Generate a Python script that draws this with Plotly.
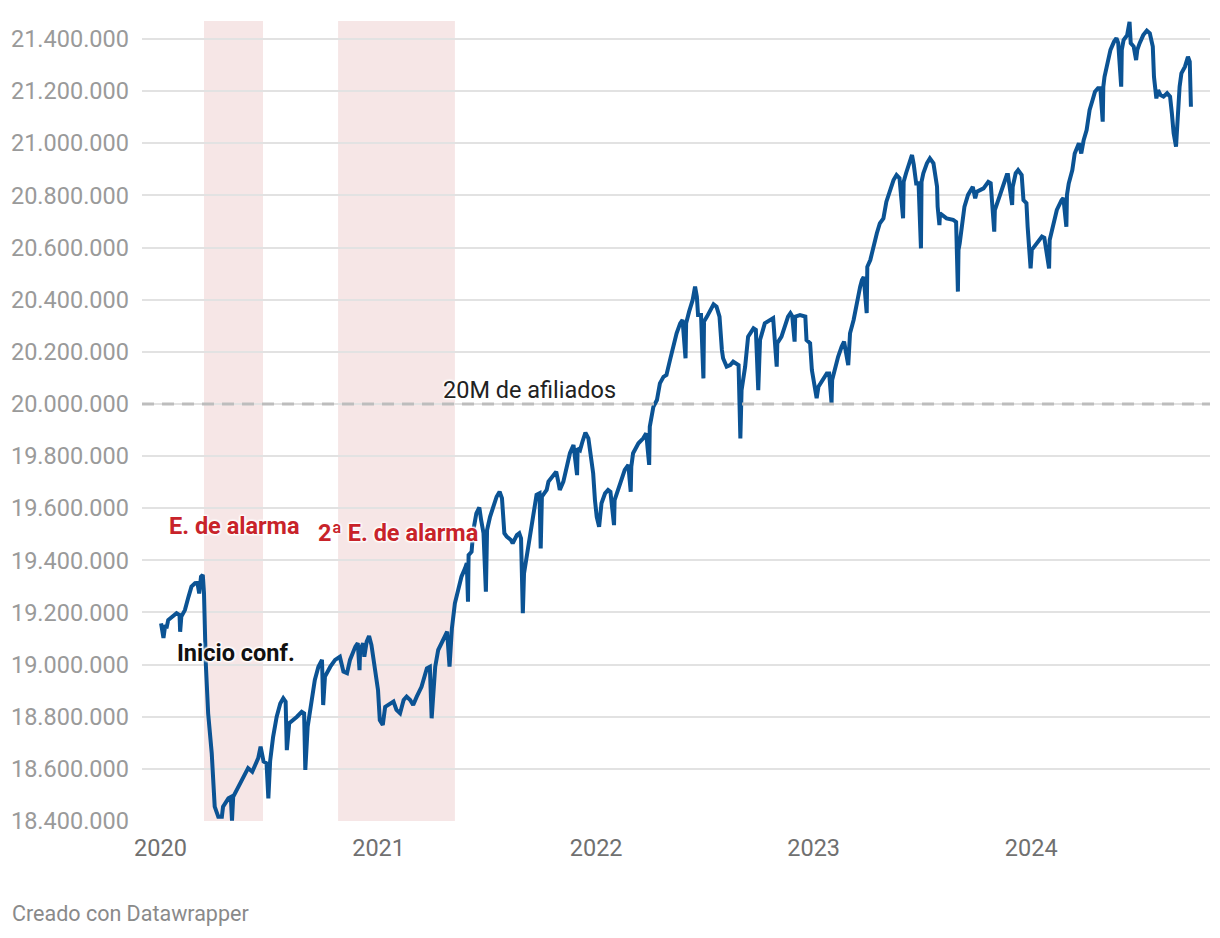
import plotly.graph_objects as go

# ---- data (affiliates, thousands) ----
dates = [
"2020-01-02","2020-01-06","2020-01-09","2020-01-11","2020-01-14","2020-01-20","2020-01-28","2020-02-02","2020-02-03","2020-02-05",
"2020-02-11","2020-02-17","2020-02-22","2020-02-28","2020-03-03","2020-03-06","2020-03-09","2020-03-12","2020-03-14","2020-03-17",
"2020-03-21","2020-03-27","2020-04-01","2020-04-07","2020-04-13","2020-04-15","2020-04-24","2020-04-28","2020-04-30","2020-05-02",
"2020-05-11","2020-05-19","2020-05-27","2020-06-03","2020-06-13","2020-06-17","2020-06-22","2020-06-27","2020-06-30","2020-07-03",
"2020-07-08","2020-07-14","2020-07-20","2020-07-25","2020-07-29","2020-07-31","2020-08-04","2020-08-17","2020-08-25","2020-08-29",
"2020-08-31","2020-09-04","2020-09-10","2020-09-16","2020-09-22","2020-09-28","2020-09-30","2020-10-03","2020-10-12","2020-10-20",
"2020-10-28","2020-11-03","2020-11-09","2020-11-14","2020-11-23","2020-11-27","2020-11-30","2020-12-01","2020-12-06","2020-12-08",
"2020-12-12","2020-12-16","2020-12-20","2020-12-26","2020-12-31","2021-01-03","2021-01-08","2021-01-12","2021-01-20","2021-01-26",
"2021-01-31","2021-02-06","2021-02-12","2021-02-17","2021-02-23","2021-02-28","2021-03-06","2021-03-14","2021-03-23","2021-03-28",
"2021-03-31","2021-04-06","2021-04-11","2021-04-20","2021-04-26","2021-04-30","2021-05-04","2021-05-09","2021-05-15","2021-05-20",
"2021-05-26","2021-05-29","2021-05-31","2021-06-01","2021-06-06","2021-06-09","2021-06-14","2021-06-19","2021-06-22","2021-06-26",
"2021-06-30","2021-07-02","2021-07-07","2021-07-12","2021-07-18","2021-07-23","2021-07-27","2021-07-31","2021-08-04","2021-08-11",
"2021-08-14","2021-08-21","2021-08-25","2021-08-28","2021-08-31","2021-09-02","2021-09-07","2021-09-11","2021-09-17","2021-09-23",
"2021-09-28","2021-09-30","2021-10-02","2021-10-10","2021-10-13","2021-10-21","2021-10-26","2021-10-30","2021-11-01","2021-11-07",
"2021-11-13","2021-11-18","2021-11-24","2021-11-30","2021-12-01","2021-12-05","2021-12-09","2021-12-14","2021-12-19","2021-12-23",
"2021-12-27","2021-12-30","2022-01-02","2022-01-06","2022-01-10","2022-01-16","2022-01-21","2022-01-25","2022-01-31","2022-02-01",
"2022-02-07","2022-02-13","2022-02-18","2022-02-24","2022-02-28","2022-03-01","2022-03-04","2022-03-13","2022-03-21","2022-03-26",
"2022-03-31","2022-04-01","2022-04-07","2022-04-13","2022-04-18","2022-04-24","2022-04-29","2022-05-05","2022-05-10","2022-05-16",
"2022-05-22","2022-05-26","2022-05-31","2022-06-01","2022-06-06","2022-06-12","2022-06-16","2022-06-19","2022-06-21","2022-06-26",
"2022-06-30","2022-07-01","2022-07-06","2022-07-11","2022-07-17","2022-07-22","2022-07-27","2022-07-31","2022-08-02","2022-08-08",
"2022-08-14","2022-08-19","2022-08-25","2022-08-28","2022-08-31","2022-09-02","2022-09-08","2022-09-13","2022-09-22","2022-09-26",
"2022-09-30","2022-10-03","2022-10-11","2022-10-20","2022-10-25","2022-10-31","2022-11-01","2022-11-08","2022-11-14","2022-11-19",
"2022-11-23","2022-11-26","2022-11-30","2022-12-01","2022-12-09","2022-12-18","2022-12-20","2022-12-26","2022-12-29","2023-01-03",
"2023-01-06","2023-01-09","2023-01-17","2023-01-23","2023-01-27","2023-01-31","2023-02-01","2023-02-06","2023-02-11","2023-02-17",
"2023-02-21","2023-02-28","2023-03-01","2023-03-03","2023-03-09","2023-03-14","2023-03-20","2023-03-23","2023-03-26","2023-03-31",
"2023-04-01","2023-04-06","2023-04-11","2023-04-17","2023-04-22","2023-04-28","2023-05-03","2023-05-09","2023-05-15","2023-05-20",
"2023-05-25","2023-05-31","2023-06-01","2023-06-05","2023-06-09","2023-06-15","2023-06-18","2023-06-22","2023-06-26","2023-06-30",
"2023-07-01","2023-07-04","2023-07-10","2023-07-15","2023-07-21","2023-07-25","2023-07-27","2023-07-28","2023-07-31","2023-08-01",
"2023-08-12","2023-08-23","2023-08-28","2023-08-31","2023-09-01","2023-09-03","2023-09-08","2023-09-11","2023-09-17","2023-09-25",
"2023-09-29","2023-10-02","2023-10-13","2023-10-21","2023-10-25","2023-10-31","2023-11-01","2023-11-05","2023-11-10","2023-11-15",
"2023-11-21","2023-11-23","2023-11-30","2023-12-01","2023-12-06","2023-12-10","2023-12-16","2023-12-19","2023-12-24","2023-12-26",
"2023-12-28","2023-12-31","2024-01-02","2024-01-10","2024-01-19","2024-01-23","2024-01-31","2024-02-01","2024-02-05","2024-02-13",
"2024-02-21","2024-02-24","2024-02-29","2024-03-01","2024-03-04","2024-03-10","2024-03-14","2024-03-21","2024-03-25","2024-03-29",
"2024-04-03","2024-04-08","2024-04-13","2024-04-17","2024-04-22","2024-04-26","2024-04-30","2024-05-01","2024-05-03","2024-05-08",
"2024-05-13","2024-05-19","2024-05-23","2024-05-26","2024-05-31","2024-06-01","2024-06-04","2024-06-10","2024-06-14","2024-06-16",
"2024-06-21","2024-06-25","2024-06-27","2024-07-01","2024-07-07","2024-07-13","2024-07-18","2024-07-23","2024-07-25","2024-07-29",
"2024-08-01","2024-08-05","2024-08-10","2024-08-16","2024-08-21","2024-08-24","2024-08-27","2024-08-31","2024-09-01","2024-09-04",
"2024-09-06","2024-09-09","2024-09-15","2024-09-20","2024-09-23","2024-09-25",
]
affiliates_k = [
19158,19102,19152,19139,19171,19184,19197,19190,19126,19184,
19209,19260,19299,19312,19313,19273,19337,19344,19275,19006,
18813,18660,18455,18416,18416,18455,18487,18492,18401,18493,
18532,18570,18603,18589,18641,18685,18628,18621,18487,18630,
18723,18800,18851,18871,18858,18672,18775,18800,18819,18813,
18596,18762,18864,18941,18992,19018,18845,18954,18992,19018,
19030,18973,18967,19018,19069,19082,18979,19056,19082,19030,
19088,19110,19075,18992,18903,18787,18768,18838,18851,18858,
18826,18813,18864,18877,18864,18845,18877,18915,18986,18992,
18794,18992,19056,19094,19126,18992,19139,19235,19286,19337,
19369,19389,19241,19420,19433,19516,19580,19603,19555,19504,
19280,19516,19567,19606,19644,19663,19638,19504,19491,19478,
19465,19497,19504,19484,19197,19350,19427,19491,19567,19651,
19657,19446,19644,19670,19702,19727,19740,19695,19670,19702,
19766,19811,19842,19727,19830,19823,19855,19890,19868,19785,
19734,19631,19567,19529,19619,19657,19670,19663,19535,19631,
19670,19708,19747,19766,19663,19759,19811,19849,19868,19887,
19766,19913,19989,20015,20079,20104,20111,20169,20220,20271,
20309,20322,20175,20309,20354,20399,20450,20411,20341,20341,
20098,20316,20335,20360,20382,20373,20335,20207,20175,20143,
20149,20162,20156,20149,19868,20053,20143,20258,20290,20284,
20053,20245,20309,20322,20329,20143,20233,20258,20296,20335,
20348,20337,20239,20335,20341,20335,20245,20233,20130,20060,
20022,20066,20092,20117,20117,20002,20092,20143,20181,20220,
20239,20149,20233,20271,20322,20386,20450,20475,20487,20348,
20526,20552,20603,20655,20693,20712,20776,20821,20859,20878,
20866,20712,20852,20885,20910,20955,20917,20846,20847,20597,
20852,20885,20923,20942,20923,20872,20833,20757,20686,20731,
20712,20706,20698,20431,20591,20616,20693,20757,20802,20833,
20789,20814,20827,20852,20847,20661,20744,20770,20808,20846,
20878,20878,20763,20833,20885,20897,20878,20782,20770,20680,
20603,20520,20591,20616,20642,20637,20520,20629,20667,20744,
20782,20790,20680,20802,20846,20897,20961,21000,20961,21012,
21051,21128,21166,21198,21211,21211,21083,21217,21255,21307,
21358,21390,21403,21385,21217,21358,21396,21415,21466,21384,
21371,21319,21358,21384,21415,21432,21422,21371,21255,21172,
21204,21185,21179,21192,21179,21115,21038,20987,21038,21128,
21217,21268,21294,21332,21313,21140,
]
affiliates = [v * 1000 for v in affiliates_k]

alarm_periods = [("2020-03-14", "2020-06-21"), ("2020-10-25", "2021-05-09")]
year_ticks = ["2020-01-01", "2021-01-01", "2022-01-01", "2023-01-01", "2024-01-01"]
year_labels = ["2020", "2021", "2022", "2023", "2024"]
threshold = 20_000_000

BLUE = "#0b5394"
RED = "#c8232a"
FONT = "Roboto"

fig = go.Figure()
fig.add_trace(go.Scatter(
    x=dates, y=affiliates, mode="lines",
    line=dict(color=BLUE, width=4),
    hoverinfo="x+y", showlegend=False,
))

shapes = []
for a, b in alarm_periods:
    shapes.append(dict(type="rect", xref="x", yref="paper", x0=a, x1=b, y0=0, y1=1,
                       fillcolor="#f6e6e6", line=dict(width=0), layer="below"))
shapes.append(dict(type="line", xref="paper", yref="y", x0=0, x1=1, y0=threshold, y1=threshold,
                   line=dict(color="#bdbdbd", width=3, dash="12px,8px"), layer="above"))

halo = "1px 1px 2px #fff, -1px -1px 2px #fff, 1px -1px 2px #fff, -1px 1px 2px #fff, 0 0 3px #fff"
annotations = [
    dict(x="2020-01-25", y=19_044_000, text="<b>Inicio conf.</b>", xanchor="left", yanchor="middle",
         font=dict(family=FONT, size=23.5, color="#111", shadow=halo)),
    dict(x="2020-01-12", y=19_532_000, text="<b>E. de alarma</b>", xanchor="left", yanchor="middle",
         font=dict(family=FONT, size=23.5, color=RED, shadow=halo)),
    dict(x="2020-09-18", y=19_505_000, text="<b>2ª E. de alarma</b>", xanchor="left", yanchor="middle",
         font=dict(family=FONT, size=23.5, color=RED, shadow=halo)),
    dict(x="2021-04-16", y=20_053_000, text="20M de afiliados", xanchor="left", yanchor="middle",
         font=dict(family=FONT, size=23.5, color="#222", shadow=halo)),
    dict(xref="paper", yref="paper", x=-0.1236, y=-0.116, text="Creado con Datawrapper",
         xanchor="left", yanchor="middle", font=dict(family=FONT, size=21.5, color="#8a8a8a")),
]
for a in annotations:
    a.setdefault("showarrow", False)
    a.setdefault("xref", "x")
    a.setdefault("yref", "y")

fig.update_layout(
    width=1220, height=938,
    margin=dict(l=142, r=10, t=21, b=117),
    paper_bgcolor="white", plot_bgcolor="white",
    separators=",.",
    font=dict(family=FONT),
    shapes=shapes, annotations=annotations,
    showlegend=False,
)
fig.update_xaxes(
    type="date", range=["2019-12-01", "2024-10-27"],
    tickvals=year_ticks, ticktext=year_labels,
    showgrid=False, zeroline=False, showline=False, ticks="",
    tickfont=dict(family=FONT, size=23.5, color="#707070"),
    ticklabelstandoff=10,
)
fig.update_yaxes(
    range=[18_400_000, 21_469_000],
    tick0=18_400_000, dtick=200_000, tickformat=",d",
    showgrid=True, gridcolor="#e2e2e2", gridwidth=1.5,
    zeroline=False, showline=False, ticks="",
    tickfont=dict(family=FONT, size=23.5, color="#9a9a9a"),
    ticklabelstandoff=12,
)

fig.write_html(
    "out.html",
    config={"displayModeBar": False},
    post_script="document.body.style.margin='0';document.body.style.overflow='hidden';",
)
